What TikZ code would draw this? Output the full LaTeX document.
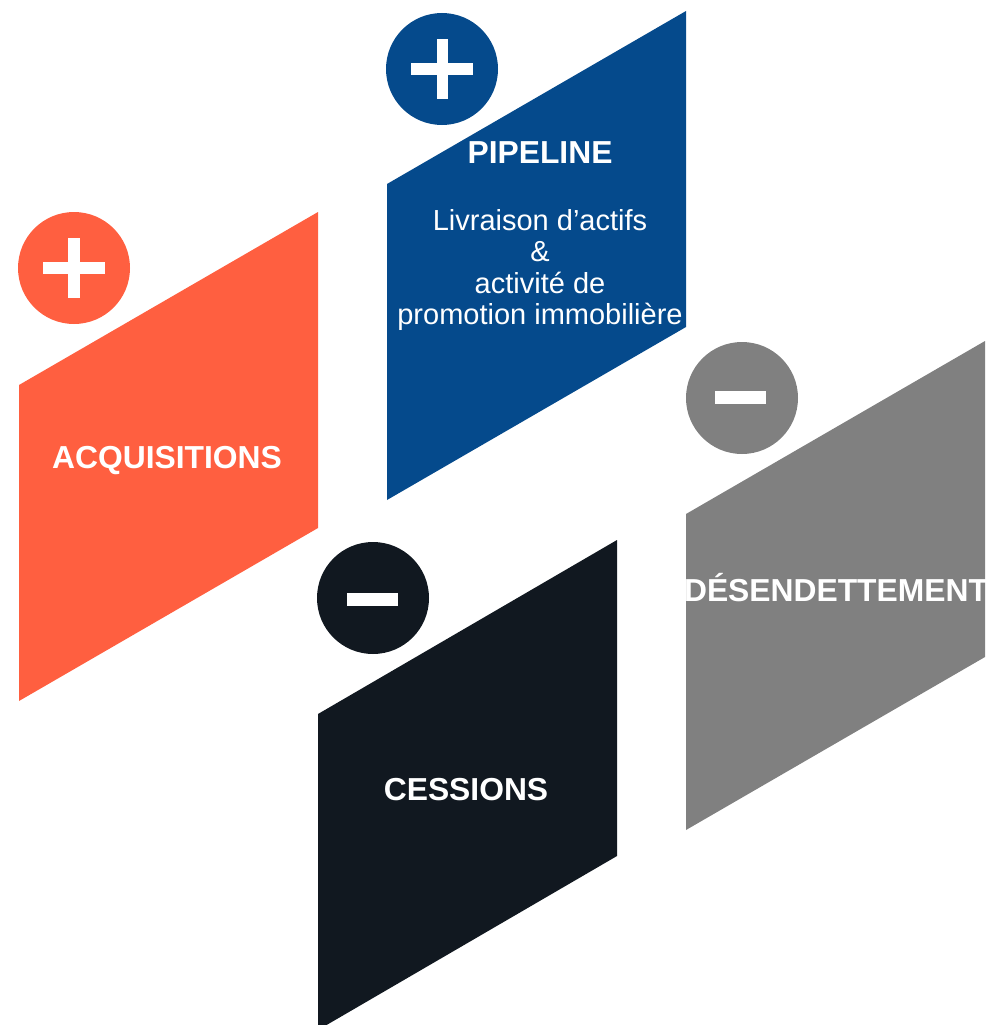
\documentclass[tikz,border=0pt]{standalone}
\usepackage{fontspec}
\setmainfont{Liberation Sans}
\definecolor{corange}{HTML}{FF5F40}
\definecolor{cblue}{HTML}{054A8C}
\definecolor{cgray}{HTML}{808080}
\definecolor{cblack}{HTML}{111820}
\tikzset{
  bigtxt/.style={text=white, font=\fontsize{31.8}{34}\selectfont\bfseries, inner sep=0pt, anchor=base},
  smalltxt/.style={text=white, font=\fontsize{29}{31}\selectfont, inner sep=0pt, anchor=base},
  badge/.style={circle, minimum size=112pt, inner sep=0pt},
}
\begin{document}
\begin{tikzpicture}[x=1pt,y=-1pt]
\useasboundingbox (0,0) rectangle (988,1025);
\begin{scope}
\clip (0,0) rectangle (988,1025);
% parallelograms
\fill[corange] (19,385) -- (318,212) -- (318,528) -- (19,701) -- cycle;
\fill[cblue] (387,184) -- (686,11) -- (686,327) -- (387,500) -- cycle;
\fill[cgray] (686,514) -- (985,341) -- (985,657) -- (686,830) -- cycle;
\fill[cblack] (318,714) -- (617,540) -- (617,856) -- (318,1030) -- cycle;
\end{scope}
% badges
\node[badge, fill=corange] (b1) at (74,268) {};
\node[badge, fill=cblue] (b2) at (442,69) {};
\node[badge, fill=cgray] (b3) at (742,398) {};
\node[badge, fill=cblack] (b4) at (373,598) {};
% plus signs
\fill[white] (43,262) rectangle (105,274);
\fill[white] (68,238) rectangle (80,298);
\fill[white] (411,63) rectangle (473,75);
\fill[white] (437,39) rectangle (448,99);
% minus signs
\fill[white] (715,391) rectangle (766,404);
\fill[white] (347,593) rectangle (398,606);
% texts
\node[bigtxt] (acq) at (167,468) {ACQUISITIONS};
\node[bigtxt] (pip) at (540,163) {PIPELINE};
\node[smalltxt] (l1) at (540,230) {Livraison d’actifs};
\node[smalltxt] (l2) at (540,261) {\&};
\node[smalltxt] (l3) at (540,293) {activité de};
\node[smalltxt] (l4) at (540,324) {promotion immobilière};
\node[bigtxt] (ces) at (466,800) {CESSIONS};
\begin{scope}
\clip (686,514) -- (985,341) -- (985,657) -- (686,830) -- cycle;
\node[bigtxt] (des) at (836,601) {DÉSENDETTEMENT};
\end{scope}
\end{tikzpicture}
\end{document}
